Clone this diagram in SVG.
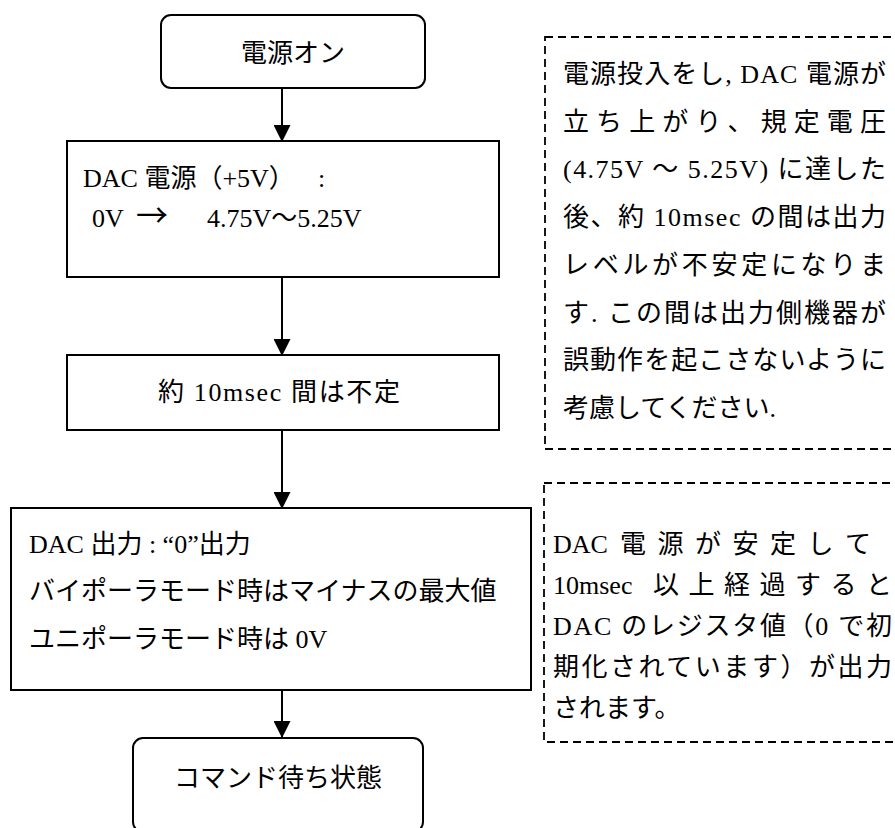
<svg xmlns="http://www.w3.org/2000/svg" width="895" height="828" viewBox="0 0 895 828">
<style>
.t { font-family: 'Liberation Serif', 'Noto Sans CJK JP', serif; font-size: 26px; fill: #000; }
.box { fill: #fff; stroke: #000; stroke-width: 2; }
.dash { fill: none; stroke: #000; stroke-width: 1.8; stroke-dasharray: 8 5; }
.conn { fill: none; stroke: #000; stroke-width: 2; }
</style>
<defs>
<marker id="ah" markerUnits="userSpaceOnUse" markerWidth="17" markerHeight="17" refX="16" refY="8.5" orient="auto">
<path d="M0,0 L17,8.5 L0,17 z" fill="#000"/>
</marker>
</defs>
<rect width="895" height="828" fill="#fff"/>

<g id="connectors">
<line class="conn" x1="282" y1="88" x2="282" y2="141" marker-end="url(#ah)"/>
<line class="conn" x1="282" y1="277" x2="282" y2="355" marker-end="url(#ah)"/>
<line class="conn" x1="282" y1="430" x2="282" y2="508" marker-end="url(#ah)"/>
<line class="conn" x1="282" y1="690" x2="282" y2="737" marker-end="url(#ah)"/>
</g>

<g id="power-on">
<rect class="box" x="161" y="15" width="264" height="73" rx="10"/>
<text class="t" x="293" y="62" text-anchor="middle">電源オン</text>
</g>

<g id="dac-power">
<rect class="box" x="67" y="141" width="432" height="136"/>
<text class="t" x="83" y="187">DAC 電源（+5V）<tspan x="318">:</tspan></text>
<text class="t" y="227"><tspan x="92">0V</tspan><tspan x="136" style="font-family:'Noto Sans CJK JP',sans-serif;font-size:32px">→</tspan><tspan x="207">4.75V～5.25V</tspan></text>
</g>

<g id="unstable">
<rect class="box" x="67" y="355" width="432" height="75"/>
<text class="t" x="158" y="401" textLength="242" lengthAdjust="spacing">約 10msec 間は不定</text>
</g>

<g id="dac-output">
<rect class="box" x="11" y="508" width="520" height="182"/>
<text class="t" x="29" y="553">DAC 出力 : “0”出力</text>
<text class="t" x="29" y="600">バイポーラモード時はマイナスの最大値</text>
<text class="t" x="29" y="648">ユニポーラモード時は 0V</text>
</g>

<g id="wait-command">
<rect class="box" x="133" y="738" width="290" height="94" rx="10"/>
<text class="t" x="278" y="787" text-anchor="middle">コマンド待ち状態</text>
</g>

<g id="note-power">
<rect class="dash" x="545" y="37" width="370" height="412"/>
<text class="t" x="563" y="83" textLength="323" lengthAdjust="spacing">電源投入をし, DAC 電源が</text>
<text class="t" x="563" y="131" textLength="323" lengthAdjust="spacing">立ち上がり、規定電圧</text>
<text class="t" x="563" y="178" textLength="323" lengthAdjust="spacing">(4.75V ～ 5.25V) に達した</text>
<text class="t" x="563" y="226" textLength="323" lengthAdjust="spacing">後、約 10msec の間は出力</text>
<text class="t" x="563" y="274" textLength="323" lengthAdjust="spacing">レベルが不安定になりま</text>
<text class="t" x="563" y="322" textLength="323" lengthAdjust="spacing">す. この間は出力側機器が</text>
<text class="t" x="563" y="369" textLength="323" lengthAdjust="spacing">誤動作を起こさないように</text>
<text class="t" x="563" y="417">考慮してください.</text>
</g>

<g id="note-output">
<rect class="dash" x="544" y="483" width="370" height="259"/>
<text class="t" y="553"><tspan x="553">DAC</tspan><tspan x="620 657.5 695 732.5 770 807.5 845">電源が安定して</tspan></text>
<text class="t" y="594"><tspan x="553">10msec</tspan><tspan x="653 688.5 724 759.5 795 830.5 866">以上経過すると</tspan></text>
<text class="t" x="553" y="635" textLength="339" lengthAdjust="spacing">DAC のレジスタ値（0 で初</text>
<text class="t" x="553" y="676" textLength="339" lengthAdjust="spacing">期化されています）が出力</text>
<text class="t" x="553" y="717">されます。</text>
</g>
</svg>
